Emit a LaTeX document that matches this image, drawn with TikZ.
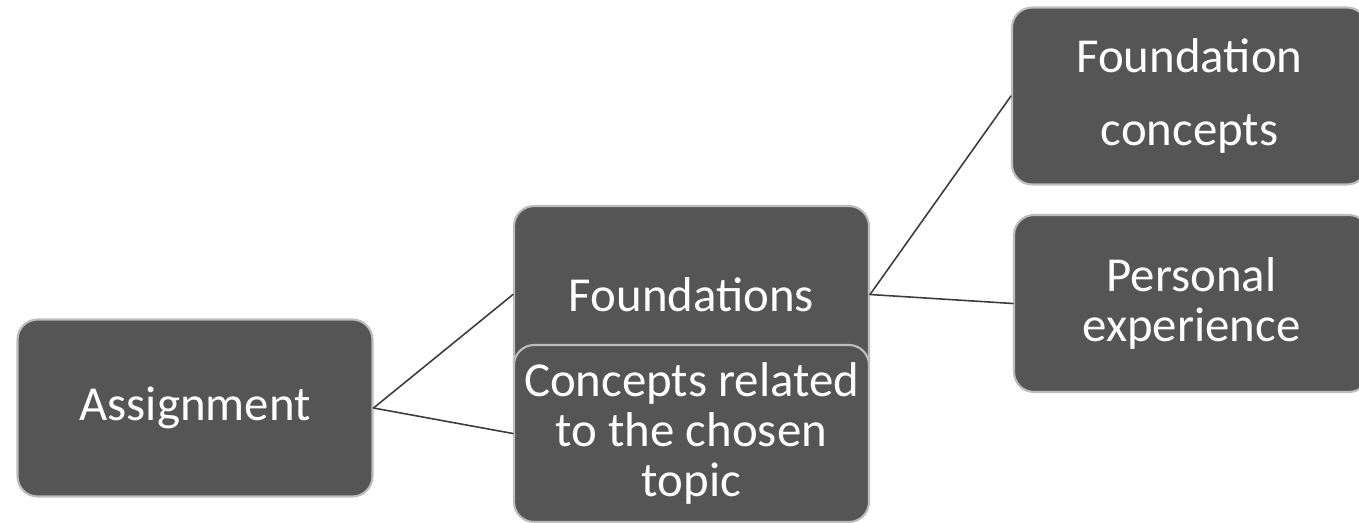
\documentclass[tikz,border=0pt]{standalone}
\usepackage{fontspec}
\setmainfont{Carlito}
\definecolor{boxfill}{HTML}{555555}
\definecolor{boxline}{HTML}{BDBDBD}
\definecolor{linkline}{HTML}{3C3C3C}

\begin{document}
\begin{tikzpicture}[x=0.02cm, y=-0.02cm,
                    line cap=round,
                    box/.style={rounded corners=0.4cm, fill=boxfill, draw=boxline,
                                line width=1.2pt, text=white, align=center,
                                minimum width=7.1cm, minimum height=3.54cm,
                                inner sep=2pt, font=\fontsize{27.8}{28.5}\selectfont},
                    link/.style={draw=linkline, line width=0.9pt}
                   ]
\useasboundingbox (0,0) rectangle (1359,522);

\node [box] (assign)   at (195,408)    {Assignment};
\node [box] (found)    at (691.5,294.5) {Foundations};
\node [box] (concepts) at (691.5,433.5) {Concepts related\\to the chosen\\topic};
\node [box] (fconc)    at (1189.5,96)  {Foundation\\[0.46cm]concepts};
\node [box] (personal) at (1191.5,303.5) {Personal\\experience};

\draw [link] (assign.east) -- (found.west);
\draw [link] (assign.east) -- (concepts.west);
\draw [link] (found.east) -- (fconc.west);
\draw [link] (found.east) -- (personal.west);
\end{tikzpicture}
\end{document}
